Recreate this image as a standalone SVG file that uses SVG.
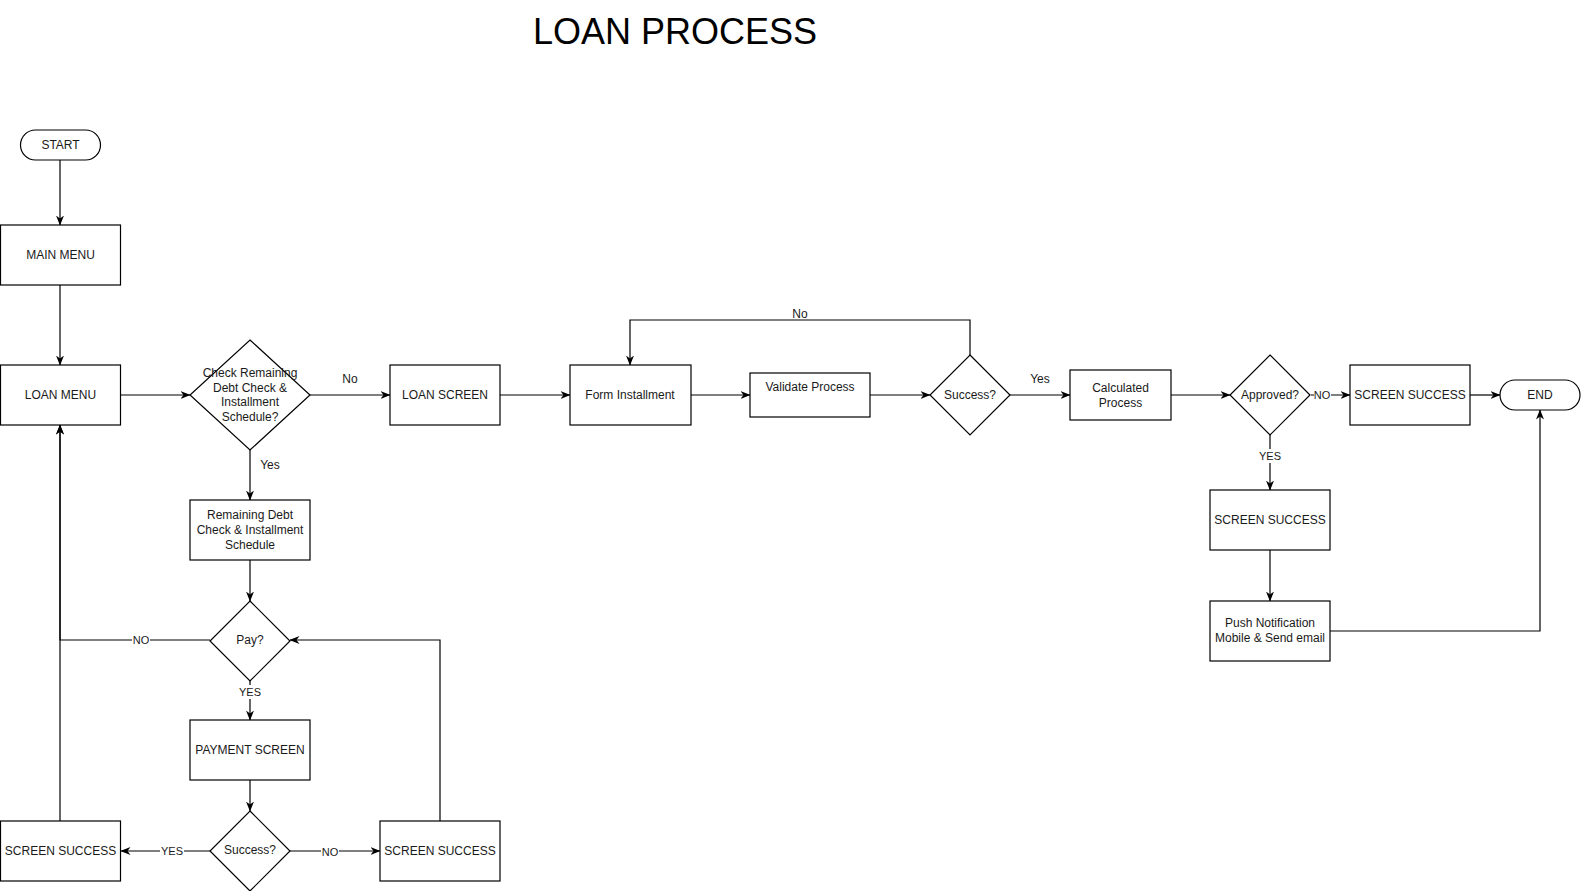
<svg xmlns="http://www.w3.org/2000/svg" width="1581" height="891" viewBox="0 0 1581 891">
<style>
.n{fill:#fff;stroke:#000;stroke-width:1.2}
.t{font-family:"Liberation Sans",Arial,sans-serif;font-size:12px;fill:#1a1a1a;text-anchor:middle;dominant-baseline:central}
.e{fill:none;stroke:#000;stroke-width:1.2}
.lb{font-family:"Liberation Sans",Arial,sans-serif;font-size:11px;fill:#1a1a1a;text-anchor:middle;dominant-baseline:central}
.bg{fill:#fff}
</style>
<defs>
<marker id="arr" viewBox="0 0 10 10" refX="9.5" refY="5" markerWidth="10" markerHeight="10" orient="auto" markerUnits="userSpaceOnUse">
<path d="M0,1 L10,5 L0,9 L3,5 z" fill="#000"/>
</marker>
</defs>
<rect width="1581" height="891" fill="#fff"/>
<text x="675" y="31" font-family="'Liberation Sans',Arial,sans-serif" font-size="36" text-anchor="middle" dominant-baseline="central" fill="#000">LOAN PROCESS</text>

<g id="connectors">
<path class="e" d="M60,160 V225" marker-end="url(#arr)"/>
<path class="e" d="M60,285 V365" marker-end="url(#arr)"/>
<path class="e" d="M121,395 H190" marker-end="url(#arr)"/>
<path class="e" d="M310,395 H390" marker-end="url(#arr)"/>
<path class="e" d="M250,450 V500" marker-end="url(#arr)"/>
<path class="e" d="M500,395 H570" marker-end="url(#arr)"/>
<path class="e" d="M691,395 H750" marker-end="url(#arr)"/>
<path class="e" d="M870,395 H930" marker-end="url(#arr)"/>
<path class="e" d="M970,355 V320 H630 V365" marker-end="url(#arr)"/>
<path class="e" d="M1010,395 H1070" marker-end="url(#arr)"/>
<path class="e" d="M1171,395 H1230" marker-end="url(#arr)"/>
<path class="e" d="M1311,395 H1350" marker-end="url(#arr)"/>
<path class="e" d="M1470,395 H1500" marker-end="url(#arr)"/>
<path class="e" d="M1270,435 V490" marker-end="url(#arr)"/>
<path class="e" d="M1270,550 V601" marker-end="url(#arr)"/>
<path class="e" d="M1330,631 H1540 V410" marker-end="url(#arr)"/>
<path class="e" d="M250,560 V601" marker-end="url(#arr)"/>
<path class="e" d="M210,640 H60 V425" marker-end="url(#arr)"/>
<path class="e" d="M250,681 V720" marker-end="url(#arr)"/>
<path class="e" d="M250,780 V811" marker-end="url(#arr)"/>
<path class="e" d="M210,851 H121" marker-end="url(#arr)"/>
<path class="e" d="M290,851 H380" marker-end="url(#arr)"/>
<path class="e" d="M440,821 V640 H290" marker-end="url(#arr)"/>
<path class="e" d="M60,821 V425" marker-end="url(#arr)"/>
<text class="t" x="350" y="379">No</text>
<text class="t" x="270" y="465">Yes</text>
<text class="t" x="800" y="314">No</text>
<text class="t" x="1040" y="379">Yes</text>
<rect class="bg" x="1314" y="388" width="17" height="14"/>
<text class="lb" x="1322" y="395">NO</text>
<rect class="bg" x="1258" y="449" width="24" height="14"/>
<text class="lb" x="1270" y="456">YES</text>
<rect class="bg" x="132" y="633" width="18" height="14"/>
<text class="lb" x="141" y="640">NO</text>
<rect class="bg" x="238" y="685" width="24" height="14"/>
<text class="lb" x="250" y="692">YES</text>
<rect class="bg" x="160" y="844" width="24" height="14"/>
<text class="lb" x="172" y="851">YES</text>
<rect class="bg" x="321" y="844" width="18" height="14"/>
<text class="lb" x="330" y="852">NO</text>
</g>

<g id="start"><rect class="n" x="20.5" y="130" width="80" height="30" rx="15"/><text class="t" x="60.5" y="145">START</text></g>
<g id="main-menu"><rect class="n" x="0.5" y="225" width="120" height="60"/><text class="t" x="60.5" y="255">MAIN MENU</text></g>
<g id="loan-menu"><rect class="n" x="0.5" y="365" width="120" height="60"/><text class="t" x="60.5" y="395">LOAN MENU</text></g>
<g id="check-remaining"><polygon class="n" points="250,340 310,395 250,450 190,395"/>
<text class="t" x="250" y="373">Check Remaining</text><text class="t" x="250" y="387.5">Debt Check &amp;</text><text class="t" x="250" y="402">Installment</text><text class="t" x="250" y="416.5">Schedule?</text></g>
<g id="loan-screen"><rect class="n" x="390" y="365" width="110" height="60"/><text class="t" x="445" y="395">LOAN SCREEN</text></g>
<g id="form-installment"><rect class="n" x="570" y="365" width="121" height="60"/><text class="t" x="630" y="395">Form Installment</text></g>
<g id="validate-process"><rect class="n" x="750" y="373" width="120" height="44"/><text class="t" x="810" y="387">Validate Process</text></g>
<g id="success-1"><polygon class="n" points="970,355 1010,395 970,435 930,395"/><text class="t" x="970" y="395">Success?</text></g>
<g id="calculated-process"><rect class="n" x="1070" y="370" width="101" height="50"/><text class="t" x="1120.5" y="388">Calculated</text><text class="t" x="1120.5" y="403">Process</text></g>
<g id="approved"><polygon class="n" points="1270,355 1310,395 1270,435 1230,395"/><text class="t" x="1270" y="395">Approved?</text></g>
<g id="screen-success-no"><rect class="n" x="1350" y="365" width="120" height="60"/><text class="t" x="1410" y="395">SCREEN SUCCESS</text></g>
<g id="end"><rect class="n" x="1500" y="380" width="80" height="30" rx="15"/><text class="t" x="1540" y="395">END</text></g>
<g id="screen-success-yes"><rect class="n" x="1210" y="490" width="120" height="60"/><text class="t" x="1270" y="520">SCREEN SUCCESS</text></g>
<g id="push-notification"><rect class="n" x="1210" y="601" width="120" height="60"/><text class="t" x="1270" y="623">Push Notification</text><text class="t" x="1270" y="638">Mobile &amp; Send email</text></g>
<g id="remaining-debt"><rect class="n" x="190" y="500" width="120" height="60"/><text class="t" x="250" y="515">Remaining Debt</text><text class="t" x="250" y="530">Check &amp; Installment</text><text class="t" x="250" y="545">Schedule</text></g>
<g id="pay"><polygon class="n" points="250,601 290,641 250,681 210,641"/><text class="t" x="250" y="640">Pay?</text></g>
<g id="payment-screen"><rect class="n" x="190" y="720" width="120" height="60"/><text class="t" x="250" y="750">PAYMENT SCREEN</text></g>
<g id="success-2"><polygon class="n" points="250,811 290,851 250,891 210,851"/><text class="t" x="250" y="850">Success?</text></g>
<g id="screen-success-left"><rect class="n" x="0.5" y="821" width="120" height="60"/><text class="t" x="60.5" y="851">SCREEN SUCCESS</text></g>
<g id="screen-success-right"><rect class="n" x="380" y="821" width="120" height="60"/><text class="t" x="440" y="851">SCREEN SUCCESS</text></g>
</svg>
